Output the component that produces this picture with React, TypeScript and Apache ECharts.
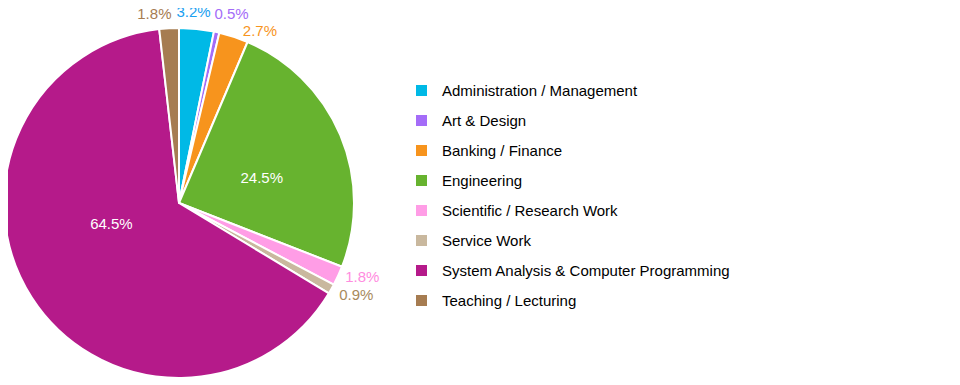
import React, { useEffect, useRef } from "react";
import * as echarts from "echarts";

const categories = [
  "Administration / Management",
  "Art & Design",
  "Banking / Finance",
  "Engineering",
  "Scientific / Research Work",
  "Service Work",
  "System Analysis & Computer Programming",
  "Teaching / Lecturing",
];
const values = [3.2, 0.5, 2.7, 24.5, 1.8, 0.9, 64.5, 1.8];
const colors = ["#00b9e6", "#a46cf8", "#f7941d", "#67b32f", "#ff9de6", "#c9b89e", "#b51a8a", "#a67c51"];
const labelColors = ["#1aa0f0", "#a46cf8", "#f7941d", "#ffffff", "#ff8ce0", "#a88a5c", "#ffffff", "#a67c51"];
const insideLabels = [false, false, false, true, false, false, true, false];
// small nudges of label placement (px)
const labelNudges: [number, number][] = [
  [-10, 3],
  [5.6, 1.4],
  [15, 13],
  [-0.7, 10],
  [1, -8],
  [2.5, -4],
  [8.6, -28],
  [-8.6, 4.7],
];

const FONT = "Arial, 'Liberation Sans', sans-serif";

export default function App() {
  const ref = useRef<HTMLDivElement>(null);
  useEffect(() => {
    if (!ref.current) return;
    const chart = echarts.init(ref.current, undefined, { renderer: "svg" });
    const data = categories.map((name, i) => ({
      name,
      value: values[i],
      itemStyle: { color: colors[i] },
      label: insideLabels[i]
        ? { position: "inside", color: labelColors[i] }
        : { position: "outside", color: labelColors[i] },
    }));
    chart.setOption({
      animation: false,
      legend: {
        orient: "vertical",
        left: 409,
        top: 78,
        icon: "rect",
        itemWidth: 13,
        itemHeight: 13,
        itemGap: 15,
        selectedMode: false,
        textStyle: {
          fontFamily: FONT,
          fontSize: 15,
          lineHeight: 15,
          color: "#000000",
          padding: [0, 0, 0, 9],
        },
        data: categories,
      },
      series: [
        {
          type: "pie",
          center: [179, 203],
          radius: [0, 175],
          startAngle: 90,
          clockwise: true,
          avoidLabelOverlap: false,
          itemStyle: { borderColor: "#ffffff", borderWidth: 2 },
          label: {
            fontFamily: FONT,
            fontSize: 15,
            distanceToLabelLine: 5,
            formatter: (p: any) => p.value.toFixed(1) + "%",
          },
          labelLine: { show: false, length: 20, length2: 0 },
          labelLayout: (params: any) => {
            const n = labelNudges[params.dataIndex];
            return { dx: n[0], dy: n[1], align: "center" };
          },
          emphasis: { disabled: true },
          data,
        },
      ],
    });
    return () => chart.dispose();
  }, []);
  return (
    <div
      ref={ref}
      style={{ width: 960, height: 385, marginTop: -8, marginLeft: -8 }}
    />
  );
}
